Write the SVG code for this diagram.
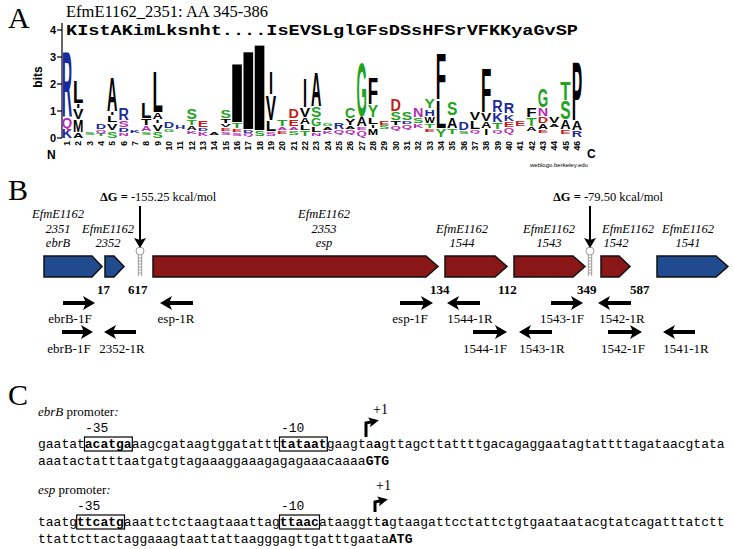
<svg xmlns="http://www.w3.org/2000/svg" width="734" height="549" viewBox="0 0 734 549">
<style>
.panel{font-family:"Liberation Serif",serif;font-size:30px;fill:#000}
.ttl{font-family:"Liberation Serif",serif;font-size:16.5px;fill:#000}
.seqc{font-family:"Liberation Mono",monospace;font-weight:bold;font-size:15px;fill:#000}
.ax{font-family:"Liberation Sans",Arial,sans-serif;font-weight:bold;font-size:11px;text-anchor:end;fill:#000}
.n{font-family:"Liberation Sans",Arial,sans-serif;font-weight:bold;font-size:8.5px;text-anchor:end;fill:#000}
.L{font-family:"Liberation Sans",Arial,sans-serif;font-weight:bold;font-size:10px}
.g{fill:#22a322}.b{fill:#1c2a9c}.p{fill:#b42cb4}.r{fill:#c41a1a}.k{fill:#000}
.gl{font-family:"Liberation Serif",serif;font-style:italic;font-size:12.5px;text-anchor:middle;fill:#000}
.dg{font-family:"Liberation Serif",serif;font-size:12.5px;fill:#000}
.num{font-family:"Liberation Serif",serif;font-weight:bold;font-size:13px;fill:#000}
.pl{font-family:"Liberation Serif",serif;font-size:13px;text-anchor:middle;fill:#000}
.blue{fill:#214b8f;stroke:#111;stroke-width:1.5}
.red{fill:#8a1717;stroke:#111;stroke-width:1.5}
.hp{fill:none;stroke:#9a9a9a;stroke-width:1}
.pr{fill:none;stroke:#000;stroke-width:4;marker-end:url(#ah)}
.dga{fill:none;stroke:#000;stroke-width:2;marker-end:url(#ah2)}
.mono{font-family:"Liberation Mono",monospace;font-size:13px;fill:#000}
.lbl{font-family:"Liberation Serif",serif;font-size:13px;fill:#000}
.box{fill:none;stroke:#000;stroke-width:1.2}
</style>
<defs>
<marker id="ah" viewBox="0 0 12 14" refX="6" refY="7" markerWidth="12" markerHeight="14" markerUnits="userSpaceOnUse" orient="auto"><path d="M0,0 L12,7 L0,14 L3,7 z" fill="#000"/></marker>
<marker id="ah2" viewBox="0 0 10 12" refX="4" refY="6" markerWidth="10" markerHeight="12" markerUnits="userSpaceOnUse" orient="auto"><path d="M0,0 L10,6 L0,12 L2,6 z" fill="#000"/></marker>
<marker id="ah3" viewBox="0 0 10 10" refX="4" refY="5" markerWidth="10" markerHeight="10" markerUnits="userSpaceOnUse" orient="auto"><path d="M0,0 L10,5 L0,10 L2,5 z" fill="#000"/></marker>
</defs>

<!-- Panel A -->
<g id="panelA">
<text class="panel" x="8" y="28">A</text>
<text class="ttl" x="66" y="17">EfmE1162_2351:  AA 345-386</text>
<text class="seqc" x="66" y="35" textLength="512" lengthAdjust="spacingAndGlyphs">KIstAKimLksnht....IsEVSLglGFsDSsHFSrVFKKyaGvSP</text>
<g id="axis">
<line x1="62" y1="23" x2="62" y2="138" stroke="#000" stroke-width="1.2"/>
<g stroke="#000" stroke-width="1.2"><line x1="57" y1="30" x2="62" y2="30"/><line x1="57" y1="57" x2="62" y2="57"/><line x1="57" y1="84" x2="62" y2="84"/><line x1="57" y1="111" x2="62" y2="111"/><line x1="57" y1="138" x2="62" y2="138"/></g>
<text class="ax" x="56" y="34">4</text><text class="ax" x="56" y="61">3</text><text class="ax" x="56" y="88">2</text><text class="ax" x="56" y="115">1</text><text class="ax" x="56" y="142">0</text>
<text class="ax" style="font-size:12px;text-anchor:middle" transform="translate(42,77) rotate(-90)">bits</text>
<text class="ax" style="font-size:12px;text-anchor:start" x="47" y="159">N</text>
<text class="ax" style="font-size:12px;text-anchor:start" x="587" y="158">C</text>
<text class="ax" style="font-size:6px;font-weight:normal;text-anchor:start" x="530" y="167">weblogo.berkeley.edu</text>
</g>
<g id="colnums">
<text class="n" transform="translate(70,141) rotate(-90)">1</text>
<text class="n" transform="translate(81.3,141) rotate(-90)">2</text>
<text class="n" transform="translate(92.7,141) rotate(-90)">3</text>
<text class="n" transform="translate(104,141) rotate(-90)">4</text>
<text class="n" transform="translate(115.3,141) rotate(-90)">5</text>
<text class="n" transform="translate(126.7,141) rotate(-90)">6</text>
<text class="n" transform="translate(138,141) rotate(-90)">7</text>
<text class="n" transform="translate(149.3,141) rotate(-90)">8</text>
<text class="n" transform="translate(160.6,141) rotate(-90)">9</text>
<text class="n" transform="translate(172,141) rotate(-90)">10</text>
<text class="n" transform="translate(183.3,141) rotate(-90)">11</text>
<text class="n" transform="translate(194.6,141) rotate(-90)">12</text>
<text class="n" transform="translate(206,141) rotate(-90)">13</text>
<text class="n" transform="translate(217.3,141) rotate(-90)">14</text>
<text class="n" transform="translate(228.6,141) rotate(-90)">15</text>
<text class="n" transform="translate(240,141) rotate(-90)">16</text>
<text class="n" transform="translate(251.3,141) rotate(-90)">17</text>
<text class="n" transform="translate(262.6,141) rotate(-90)">18</text>
<text class="n" transform="translate(273.9,141) rotate(-90)">19</text>
<text class="n" transform="translate(285.3,141) rotate(-90)">20</text>
<text class="n" transform="translate(296.6,141) rotate(-90)">21</text>
<text class="n" transform="translate(307.9,141) rotate(-90)">22</text>
<text class="n" transform="translate(319.3,141) rotate(-90)">23</text>
<text class="n" transform="translate(330.6,141) rotate(-90)">24</text>
<text class="n" transform="translate(341.9,141) rotate(-90)">25</text>
<text class="n" transform="translate(353.3,141) rotate(-90)">26</text>
<text class="n" transform="translate(364.6,141) rotate(-90)">27</text>
<text class="n" transform="translate(375.9,141) rotate(-90)">28</text>
<text class="n" transform="translate(387.2,141) rotate(-90)">29</text>
<text class="n" transform="translate(398.6,141) rotate(-90)">30</text>
<text class="n" transform="translate(409.9,141) rotate(-90)">31</text>
<text class="n" transform="translate(421.2,141) rotate(-90)">32</text>
<text class="n" transform="translate(432.6,141) rotate(-90)">33</text>
<text class="n" transform="translate(443.9,141) rotate(-90)">34</text>
<text class="n" transform="translate(455.2,141) rotate(-90)">35</text>
<text class="n" transform="translate(466.6,141) rotate(-90)">36</text>
<text class="n" transform="translate(477.9,141) rotate(-90)">37</text>
<text class="n" transform="translate(489.2,141) rotate(-90)">38</text>
<text class="n" transform="translate(500.5,141) rotate(-90)">39</text>
<text class="n" transform="translate(511.9,141) rotate(-90)">40</text>
<text class="n" transform="translate(523.2,141) rotate(-90)">41</text>
<text class="n" transform="translate(534.5,141) rotate(-90)">42</text>
<text class="n" transform="translate(545.9,141) rotate(-90)">43</text>
<text class="n" transform="translate(557.2,141) rotate(-90)">44</text>
<text class="n" transform="translate(568.5,141) rotate(-90)">45</text>
<text class="n" transform="translate(579.9,141) rotate(-90)">46</text>
</g>
<g id="logo">
<text class="L b" transform="translate(61.8,138) scale(1,1.257)" textLength="10.4" lengthAdjust="spacingAndGlyphs">K</text>
<text class="L p" transform="translate(61.8,128) scale(1,1.536)" textLength="10.4" lengthAdjust="spacingAndGlyphs">Q</text>
<text class="L b" transform="translate(61.8,116) scale(1,9.218)" textLength="10.4" lengthAdjust="spacingAndGlyphs">R</text>
<text class="L k" transform="translate(73.1,138) scale(1,0.698)" textLength="10.4" lengthAdjust="spacingAndGlyphs">A</text>
<text class="L k" transform="translate(73.1,132) scale(1,1.676)" textLength="10.4" lengthAdjust="spacingAndGlyphs">M</text>
<text class="L k" transform="translate(73.1,119) scale(1,1.397)" textLength="10.4" lengthAdjust="spacingAndGlyphs">V</text>
<text class="L k" transform="translate(76.3,108) scale(1,0.559)" textLength="4" lengthAdjust="spacingAndGlyphs">I</text>
<text class="L k" transform="translate(73.1,103) scale(1,3.212)" textLength="10.4" lengthAdjust="spacingAndGlyphs">L</text>
<text class="L g" transform="translate(84.5,135) scale(1,0.419)" textLength="10.4" lengthAdjust="spacingAndGlyphs">S</text>
<text class="L g" transform="translate(95.8,136) scale(1,0.419)" textLength="10.4" lengthAdjust="spacingAndGlyphs">T</text>
<text class="L p" transform="translate(95.8,133) scale(1,0.419)" textLength="10.4" lengthAdjust="spacingAndGlyphs">Q</text>
<text class="L b" transform="translate(95.8,129) scale(1,0.698)" textLength="10.4" lengthAdjust="spacingAndGlyphs">D</text>
<text class="L g" transform="translate(107.1,138) scale(1,0.978)" textLength="10.4" lengthAdjust="spacingAndGlyphs">S</text>
<text class="L k" transform="translate(107.1,130) scale(1,0.978)" textLength="10.4" lengthAdjust="spacingAndGlyphs">V</text>
<text class="L k" transform="translate(107.1,122) scale(1,0.838)" textLength="10.4" lengthAdjust="spacingAndGlyphs">L</text>
<text class="L k" transform="translate(110.3,115) scale(1,0.419)" textLength="4" lengthAdjust="spacingAndGlyphs">I</text>
<text class="L k" transform="translate(107.1,111) scale(1,4.888)" textLength="10.4" lengthAdjust="spacingAndGlyphs">A</text>
<text class="L p" transform="translate(118.5,136) scale(1,0.419)" textLength="10.4" lengthAdjust="spacingAndGlyphs">N</text>
<text class="L b" transform="translate(118.5,132) scale(1,0.559)" textLength="10.4" lengthAdjust="spacingAndGlyphs">D</text>
<text class="L p" transform="translate(118.5,127) scale(1,0.838)" textLength="10.4" lengthAdjust="spacingAndGlyphs">S</text>
<text class="L b" transform="translate(118.5,120) scale(1,1.676)" textLength="10.4" lengthAdjust="spacingAndGlyphs">R</text>
<text class="L b" transform="translate(129.8,133) scale(1,0.279)" textLength="10.4" lengthAdjust="spacingAndGlyphs">K</text>
<text class="L g" transform="translate(141.1,135) scale(1,0.419)" textLength="10.4" lengthAdjust="spacingAndGlyphs">S</text>
<text class="L p" transform="translate(141.1,131) scale(1,0.698)" textLength="10.4" lengthAdjust="spacingAndGlyphs">A</text>
<text class="L k" transform="translate(141.1,125) scale(1,0.838)" textLength="10.4" lengthAdjust="spacingAndGlyphs">T</text>
<text class="L k" transform="translate(141.1,118) scale(1,2.235)" textLength="10.4" lengthAdjust="spacingAndGlyphs">L</text>
<text class="L g" transform="translate(152.4,138) scale(1,0.838)" textLength="10.4" lengthAdjust="spacingAndGlyphs">S</text>
<text class="L k" transform="translate(152.4,131) scale(1,0.978)" textLength="10.4" lengthAdjust="spacingAndGlyphs">V</text>
<text class="L k" transform="translate(155.6,123) scale(1,0.419)" textLength="4" lengthAdjust="spacingAndGlyphs">I</text>
<text class="L k" transform="translate(152.4,119) scale(1,0.838)" textLength="10.4" lengthAdjust="spacingAndGlyphs">A</text>
<text class="L k" transform="translate(152.4,112) scale(1,5.726)" textLength="10.4" lengthAdjust="spacingAndGlyphs">L</text>
<text class="L g" transform="translate(163.8,132) scale(1,0.419)" textLength="10.4" lengthAdjust="spacingAndGlyphs">G</text>
<text class="L b" transform="translate(163.8,128) scale(1,0.838)" textLength="10.4" lengthAdjust="spacingAndGlyphs">D</text>
<text class="L b" transform="translate(175.1,129) scale(1,0.559)" textLength="10.4" lengthAdjust="spacingAndGlyphs">H</text>
<text class="L p" transform="translate(186.4,134) scale(1,0.419)" textLength="10.4" lengthAdjust="spacingAndGlyphs">K</text>
<text class="L k" transform="translate(186.4,130) scale(1,0.559)" textLength="10.4" lengthAdjust="spacingAndGlyphs">A</text>
<text class="L g" transform="translate(186.4,125) scale(1,0.698)" textLength="10.4" lengthAdjust="spacingAndGlyphs">T</text>
<text class="L g" transform="translate(186.4,119) scale(1,1.397)" textLength="10.4" lengthAdjust="spacingAndGlyphs">S</text>
<text class="L p" transform="translate(197.8,136) scale(1,0.559)" textLength="10.4" lengthAdjust="spacingAndGlyphs">K</text>
<text class="L b" transform="translate(197.8,131) scale(1,0.419)" textLength="10.4" lengthAdjust="spacingAndGlyphs">D</text>
<text class="L r" transform="translate(197.8,127) scale(1,0.978)" textLength="10.4" lengthAdjust="spacingAndGlyphs">E</text>
<text class="L k" transform="translate(209.1,135) scale(1,0.279)" textLength="10.4" lengthAdjust="spacingAndGlyphs">A</text>
<text class="L p" transform="translate(220.4,135) scale(1,0.419)" textLength="10.4" lengthAdjust="spacingAndGlyphs">S</text>
<text class="L r" transform="translate(220.4,131) scale(1,0.419)" textLength="10.4" lengthAdjust="spacingAndGlyphs">E</text>
<text class="L k" transform="translate(220.4,127) scale(1,0.419)" textLength="10.4" lengthAdjust="spacingAndGlyphs">V</text>
<text class="L k" transform="translate(220.4,123) scale(1,0.559)" textLength="10.4" lengthAdjust="spacingAndGlyphs">T</text>
<text class="L g" transform="translate(220.4,118) scale(1,1.117)" textLength="10.4" lengthAdjust="spacingAndGlyphs">S</text>
<text class="L p" transform="translate(231.8,136) scale(1,0.419)" textLength="10.4" lengthAdjust="spacingAndGlyphs">S</text>
<text class="L r" transform="translate(231.8,132) scale(1,0.419)" textLength="10.4" lengthAdjust="spacingAndGlyphs">E</text>
<text class="L g" transform="translate(231.8,128) scale(1,0.698)" textLength="10.4" lengthAdjust="spacingAndGlyphs">T</text>
<text class="L k" transform="translate(227.7,122) scale(1,8.380)" textLength="18.6" lengthAdjust="spacingAndGlyphs">I</text>
<text class="L p" transform="translate(243.1,136) scale(1,0.279)" textLength="10.4" lengthAdjust="spacingAndGlyphs">Q</text>
<text class="L b" transform="translate(243.1,133) scale(1,0.419)" textLength="10.4" lengthAdjust="spacingAndGlyphs">D</text>
<text class="L k" transform="translate(239.0,129) scale(1,11.173)" textLength="18.6" lengthAdjust="spacingAndGlyphs">I</text>
<text class="L g" transform="translate(254.4,136) scale(1,0.698)" textLength="10.4" lengthAdjust="spacingAndGlyphs">S</text>
<text class="L k" transform="translate(250.3,130) scale(1,12.291)" textLength="18.6" lengthAdjust="spacingAndGlyphs">I</text>
<text class="L p" transform="translate(265.7,136) scale(1,0.559)" textLength="10.4" lengthAdjust="spacingAndGlyphs">S</text>
<text class="L k" transform="translate(265.7,131) scale(1,1.397)" textLength="10.4" lengthAdjust="spacingAndGlyphs">L</text>
<text class="L k" transform="translate(265.7,120) scale(1,3.492)" textLength="10.4" lengthAdjust="spacingAndGlyphs">V</text>
<text class="L k" transform="translate(268.9,94) scale(1,3.212)" textLength="4" lengthAdjust="spacingAndGlyphs">I</text>
<text class="L r" transform="translate(277.1,134) scale(1,0.419)" textLength="10.4" lengthAdjust="spacingAndGlyphs">E</text>
<text class="L p" transform="translate(277.1,130) scale(1,0.419)" textLength="10.4" lengthAdjust="spacingAndGlyphs">A</text>
<text class="L g" transform="translate(277.1,126) scale(1,0.838)" textLength="10.4" lengthAdjust="spacingAndGlyphs">T</text>
<text class="L g" transform="translate(288.4,135) scale(1,0.559)" textLength="10.4" lengthAdjust="spacingAndGlyphs">S</text>
<text class="L p" transform="translate(288.4,130) scale(1,0.419)" textLength="10.4" lengthAdjust="spacingAndGlyphs">A</text>
<text class="L r" transform="translate(288.4,126) scale(1,0.978)" textLength="10.4" lengthAdjust="spacingAndGlyphs">E</text>
<text class="L r" transform="translate(288.4,118) scale(1,1.257)" textLength="10.4" lengthAdjust="spacingAndGlyphs">D</text>
<text class="L g" transform="translate(299.7,136) scale(1,0.698)" textLength="10.4" lengthAdjust="spacingAndGlyphs">T</text>
<text class="L k" transform="translate(299.7,130) scale(1,0.698)" textLength="10.4" lengthAdjust="spacingAndGlyphs">L</text>
<text class="L k" transform="translate(299.7,124) scale(1,0.838)" textLength="10.4" lengthAdjust="spacingAndGlyphs">A</text>
<text class="L k" transform="translate(299.7,117) scale(1,1.257)" textLength="10.4" lengthAdjust="spacingAndGlyphs">V</text>
<text class="L k" transform="translate(302.9,107) scale(1,4.050)" textLength="4" lengthAdjust="spacingAndGlyphs">I</text>
<text class="L p" transform="translate(311.1,136) scale(1,0.419)" textLength="10.4" lengthAdjust="spacingAndGlyphs">N</text>
<text class="L k" transform="translate(311.1,132) scale(1,0.698)" textLength="10.4" lengthAdjust="spacingAndGlyphs">L</text>
<text class="L g" transform="translate(311.1,126) scale(1,1.117)" textLength="10.4" lengthAdjust="spacingAndGlyphs">G</text>
<text class="L g" transform="translate(311.1,117) scale(1,1.397)" textLength="10.4" lengthAdjust="spacingAndGlyphs">S</text>
<text class="L k" transform="translate(311.1,106) scale(1,4.749)" textLength="10.4" lengthAdjust="spacingAndGlyphs">A</text>
<text class="L p" transform="translate(322.4,134) scale(1,0.419)" textLength="10.4" lengthAdjust="spacingAndGlyphs">K</text>
<text class="L k" transform="translate(322.4,130) scale(1,0.419)" textLength="10.4" lengthAdjust="spacingAndGlyphs">A</text>
<text class="L g" transform="translate(322.4,126) scale(1,0.419)" textLength="10.4" lengthAdjust="spacingAndGlyphs">G</text>
<text class="L p" transform="translate(333.7,134) scale(1,0.559)" textLength="10.4" lengthAdjust="spacingAndGlyphs">Q</text>
<text class="L b" transform="translate(333.7,129) scale(1,0.978)" textLength="10.4" lengthAdjust="spacingAndGlyphs">R</text>
<text class="L p" transform="translate(345.1,134) scale(1,0.559)" textLength="10.4" lengthAdjust="spacingAndGlyphs">Q</text>
<text class="L k" transform="translate(345.1,129) scale(1,0.419)" textLength="10.4" lengthAdjust="spacingAndGlyphs">A</text>
<text class="L k" transform="translate(345.1,125) scale(1,0.838)" textLength="10.4" lengthAdjust="spacingAndGlyphs">Y</text>
<text class="L g" transform="translate(345.1,118) scale(1,1.536)" textLength="10.4" lengthAdjust="spacingAndGlyphs">C</text>
<text class="L p" transform="translate(356.4,136) scale(1,0.698)" textLength="10.4" lengthAdjust="spacingAndGlyphs">Q</text>
<text class="L p" transform="translate(356.4,130) scale(1,0.419)" textLength="10.4" lengthAdjust="spacingAndGlyphs">E</text>
<text class="L k" transform="translate(356.4,126) scale(1,1.257)" textLength="10.4" lengthAdjust="spacingAndGlyphs">A</text>
<text class="L g" transform="translate(356.4,116) scale(1,7.542)" textLength="10.4" lengthAdjust="spacingAndGlyphs">G</text>
<text class="L k" transform="translate(367.7,135) scale(1,0.838)" textLength="10.4" lengthAdjust="spacingAndGlyphs">M</text>
<text class="L k" transform="translate(370.9,128) scale(1,0.419)" textLength="4" lengthAdjust="spacingAndGlyphs">I</text>
<text class="L k" transform="translate(367.7,124) scale(1,0.838)" textLength="10.4" lengthAdjust="spacingAndGlyphs">L</text>
<text class="L g" transform="translate(367.7,117) scale(1,1.676)" textLength="10.4" lengthAdjust="spacingAndGlyphs">Y</text>
<text class="L k" transform="translate(367.7,104) scale(1,3.631)" textLength="10.4" lengthAdjust="spacingAndGlyphs">F</text>
<text class="L g" transform="translate(379.0,129) scale(1,0.559)" textLength="10.4" lengthAdjust="spacingAndGlyphs">S</text>
<text class="L r" transform="translate(379.0,125) scale(1,0.559)" textLength="10.4" lengthAdjust="spacingAndGlyphs">E</text>
<text class="L p" transform="translate(390.4,130) scale(1,0.559)" textLength="10.4" lengthAdjust="spacingAndGlyphs">Q</text>
<text class="L k" transform="translate(390.4,125) scale(1,0.559)" textLength="10.4" lengthAdjust="spacingAndGlyphs">T</text>
<text class="L g" transform="translate(390.4,120) scale(1,1.117)" textLength="10.4" lengthAdjust="spacingAndGlyphs">S</text>
<text class="L r" transform="translate(390.4,111) scale(1,1.676)" textLength="10.4" lengthAdjust="spacingAndGlyphs">D</text>
<text class="L p" transform="translate(401.7,129) scale(1,0.559)" textLength="10.4" lengthAdjust="spacingAndGlyphs">Q</text>
<text class="L b" transform="translate(401.7,124) scale(1,0.419)" textLength="10.4" lengthAdjust="spacingAndGlyphs">D</text>
<text class="L g" transform="translate(401.7,120) scale(1,1.117)" textLength="10.4" lengthAdjust="spacingAndGlyphs">S</text>
<text class="L p" transform="translate(413.0,128) scale(1,0.559)" textLength="10.4" lengthAdjust="spacingAndGlyphs">K</text>
<text class="L g" transform="translate(413.0,123) scale(1,0.698)" textLength="10.4" lengthAdjust="spacingAndGlyphs">S</text>
<text class="L p" transform="translate(413.0,117) scale(1,1.257)" textLength="10.4" lengthAdjust="spacingAndGlyphs">N</text>
<text class="L r" transform="translate(424.4,132) scale(1,0.419)" textLength="10.4" lengthAdjust="spacingAndGlyphs">E</text>
<text class="L g" transform="translate(424.4,128) scale(1,0.559)" textLength="10.4" lengthAdjust="spacingAndGlyphs">T</text>
<text class="L k" transform="translate(424.4,123) scale(1,0.838)" textLength="10.4" lengthAdjust="spacingAndGlyphs">W</text>
<text class="L b" transform="translate(424.4,116) scale(1,0.978)" textLength="10.4" lengthAdjust="spacingAndGlyphs">H</text>
<text class="L g" transform="translate(424.4,108) scale(1,1.257)" textLength="10.4" lengthAdjust="spacingAndGlyphs">Y</text>
<text class="L g" transform="translate(435.7,137) scale(1,1.117)" textLength="10.4" lengthAdjust="spacingAndGlyphs">Y</text>
<text class="L k" transform="translate(435.7,128) scale(1,3.911)" textLength="10.4" lengthAdjust="spacingAndGlyphs">L</text>
<text class="L k" transform="translate(435.7,99) scale(1,6.425)" textLength="10.4" lengthAdjust="spacingAndGlyphs">F</text>
<text class="L g" transform="translate(447.0,134) scale(1,0.698)" textLength="10.4" lengthAdjust="spacingAndGlyphs">T</text>
<text class="L k" transform="translate(447.0,128) scale(1,1.397)" textLength="10.4" lengthAdjust="spacingAndGlyphs">A</text>
<text class="L g" transform="translate(447.0,115) scale(1,1.816)" textLength="10.4" lengthAdjust="spacingAndGlyphs">S</text>
<text class="L g" transform="translate(458.4,134) scale(1,0.419)" textLength="10.4" lengthAdjust="spacingAndGlyphs">S</text>
<text class="L b" transform="translate(458.4,130) scale(1,1.117)" textLength="10.4" lengthAdjust="spacingAndGlyphs">D</text>
<text class="L p" transform="translate(469.7,133) scale(1,0.419)" textLength="10.4" lengthAdjust="spacingAndGlyphs">Q</text>
<text class="L k" transform="translate(469.7,129) scale(1,1.117)" textLength="10.4" lengthAdjust="spacingAndGlyphs">L</text>
<text class="L k" transform="translate(469.7,120) scale(1,1.117)" textLength="10.4" lengthAdjust="spacingAndGlyphs">V</text>
<text class="L k" transform="translate(484.2,135) scale(1,0.838)" textLength="4" lengthAdjust="spacingAndGlyphs">I</text>
<text class="L k" transform="translate(481.0,128) scale(1,0.838)" textLength="10.4" lengthAdjust="spacingAndGlyphs">A</text>
<text class="L k" transform="translate(481.0,121) scale(1,1.117)" textLength="10.4" lengthAdjust="spacingAndGlyphs">V</text>
<text class="L k" transform="translate(481.0,112) scale(1,6.285)" textLength="10.4" lengthAdjust="spacingAndGlyphs">F</text>
<text class="L p" transform="translate(492.3,133) scale(1,0.419)" textLength="10.4" lengthAdjust="spacingAndGlyphs">Q</text>
<text class="L g" transform="translate(492.3,129) scale(1,0.838)" textLength="10.4" lengthAdjust="spacingAndGlyphs">T</text>
<text class="L b" transform="translate(492.3,122) scale(1,1.257)" textLength="10.4" lengthAdjust="spacingAndGlyphs">K</text>
<text class="L b" transform="translate(492.3,112) scale(1,1.676)" textLength="10.4" lengthAdjust="spacingAndGlyphs">R</text>
<text class="L p" transform="translate(503.7,133) scale(1,0.698)" textLength="10.4" lengthAdjust="spacingAndGlyphs">Q</text>
<text class="L r" transform="translate(503.7,127) scale(1,0.698)" textLength="10.4" lengthAdjust="spacingAndGlyphs">E</text>
<text class="L b" transform="translate(503.7,121) scale(1,0.978)" textLength="10.4" lengthAdjust="spacingAndGlyphs">K</text>
<text class="L b" transform="translate(503.7,113) scale(1,1.536)" textLength="10.4" lengthAdjust="spacingAndGlyphs">R</text>
<text class="L r" transform="translate(515.0,126) scale(1,0.698)" textLength="10.4" lengthAdjust="spacingAndGlyphs">E</text>
<text class="L k" transform="translate(526.3,131) scale(1,0.559)" textLength="10.4" lengthAdjust="spacingAndGlyphs">A</text>
<text class="L g" transform="translate(526.3,126) scale(1,1.117)" textLength="10.4" lengthAdjust="spacingAndGlyphs">T</text>
<text class="L k" transform="translate(526.3,117) scale(1,1.257)" textLength="10.4" lengthAdjust="spacingAndGlyphs">F</text>
<text class="L r" transform="translate(537.7,133) scale(1,0.419)" textLength="10.4" lengthAdjust="spacingAndGlyphs">E</text>
<text class="L k" transform="translate(537.7,129) scale(1,0.698)" textLength="10.4" lengthAdjust="spacingAndGlyphs">A</text>
<text class="L r" transform="translate(537.7,123) scale(1,0.838)" textLength="10.4" lengthAdjust="spacingAndGlyphs">D</text>
<text class="L p" transform="translate(537.7,116) scale(1,1.117)" textLength="10.4" lengthAdjust="spacingAndGlyphs">N</text>
<text class="L g" transform="translate(537.7,107) scale(1,2.514)" textLength="10.4" lengthAdjust="spacingAndGlyphs">G</text>
<text class="L k" transform="translate(549.0,127) scale(1,0.419)" textLength="10.4" lengthAdjust="spacingAndGlyphs">A</text>
<text class="L k" transform="translate(549.0,123) scale(1,0.838)" textLength="10.4" lengthAdjust="spacingAndGlyphs">V</text>
<text class="L r" transform="translate(560.3,134) scale(1,0.559)" textLength="10.4" lengthAdjust="spacingAndGlyphs">E</text>
<text class="L k" transform="translate(560.3,129) scale(1,1.257)" textLength="10.4" lengthAdjust="spacingAndGlyphs">A</text>
<text class="L g" transform="translate(560.3,119) scale(1,2.514)" textLength="10.4" lengthAdjust="spacingAndGlyphs">S</text>
<text class="L g" transform="translate(560.3,100) scale(1,2.514)" textLength="10.4" lengthAdjust="spacingAndGlyphs">T</text>
<text class="L b" transform="translate(571.7,137) scale(1,0.838)" textLength="10.4" lengthAdjust="spacingAndGlyphs">R</text>
<text class="L k" transform="translate(571.7,130) scale(1,1.257)" textLength="10.4" lengthAdjust="spacingAndGlyphs">A</text>
<text class="L k" transform="translate(571.7,120) scale(1,8.380)" textLength="10.4" lengthAdjust="spacingAndGlyphs">P</text>
</g>
</g>

<!-- Panel B -->
<g id="panelB">
<text class="panel" x="8" y="200">B</text>
<text class="dg" x="100" y="201"><tspan font-weight="bold">ΔG =</tspan> -155.25 kcal/mol</text>
<text class="dg" x="553" y="201"><tspan font-weight="bold">ΔG =</tspan> -79.50 kcal/mol</text>

<g id="g2351"><polygon class="blue" points="44,256 92,256 102,266.5 92,277 44,277"/>
<text class="gl" x="58" y="218">EfmE1162</text><text class="gl" x="58" y="233">2351</text><text class="gl" x="58" y="247">ebrB</text></g>
<g id="g2352"><polygon class="blue" points="105,256 114,256 124,266.5 114,277 105,277"/>
<text class="gl" x="108" y="233">EfmE1162</text><text class="gl" x="108" y="247">2352</text></g>
<g id="g2353"><polygon class="red" points="153,256 426,256 438,266.5 426,277 153,277"/>
<text class="gl" x="324" y="218">EfmE1162</text><text class="gl" x="324" y="233">2353</text><text class="gl" x="324" y="247">esp</text></g>
<g id="g1544"><polygon class="red" points="445,256 495,256 507,266.5 495,277 445,277"/>
<text class="gl" x="462" y="233">EfmE1162</text><text class="gl" x="462" y="247">1544</text></g>
<g id="g1543"><polygon class="red" points="514,256 573,256 585,266.5 573,277 514,277"/>
<text class="gl" x="549" y="233">EfmE1162</text><text class="gl" x="549" y="247">1543</text></g>
<g id="g1542"><polygon class="red" points="601,256 619,256 630,266.5 619,277 601,277"/>
<text class="gl" x="628" y="233">EfmE1162</text><text class="gl" x="616" y="247">1542</text></g>
<g id="g1541"><polygon class="blue" points="657,256 716,256 728,266.5 716,277 657,277"/>
<text class="gl" x="688" y="233">EfmE1162</text><text class="gl" x="688" y="247">1541</text></g>

<g id="term1"><circle class="hp" cx="140" cy="251" r="4"/><path class="hp" d="M138.3,254.6 V276 M141.7,254.6 V276 M138.3,258 H141.7 M138.3,261 H141.7 M138.3,264 H141.7 M138.3,267 H141.7 M138.3,270 H141.7 M138.3,273 H141.7"/></g>
<g id="term2"><circle class="hp" cx="590" cy="251" r="4"/><path class="hp" d="M588.3,254.6 V276 M591.7,254.6 V276 M588.3,258 H591.7 M588.3,261 H591.7 M588.3,264 H591.7 M588.3,267 H591.7 M588.3,270 H591.7 M588.3,273 H591.7"/></g>

<g id="sizes">
<text class="num" x="97" y="294">17</text><text class="num" x="128" y="294">617</text>
<text class="num" x="430" y="294">134</text><text class="num" x="498" y="294">112</text>
<text class="num" x="577" y="294">349</text><text class="num" x="630" y="294">587</text>
</g>
<g id="primerlabels">
<text class="pl" x="70" y="323">ebrB-1F</text><text class="pl" x="176" y="323">esp-1R</text>
<text class="pl" x="69" y="353">ebrB-1F</text><text class="pl" x="122" y="353">2352-1R</text>
<text class="pl" x="410" y="323">esp-1F</text><text class="pl" x="470" y="323">1544-1R</text>
<text class="pl" x="562" y="323">1543-1F</text><text class="pl" x="622" y="323">1542-1R</text>
<text class="pl" x="485" y="353">1544-1F</text><text class="pl" x="542" y="353">1543-1R</text>
<text class="pl" x="623" y="353">1542-1F</text><text class="pl" x="686" y="353">1541-1R</text>
</g>
</g>

<g id="connectors">
<path class="dga" d="M140,206 V242"/>
<path class="dga" d="M590,206 V242"/>
<path class="pr" d="M63,303 H89"/>
<path class="pr" d="M193,303 H166"/>
<path class="pr" d="M62,332 H87"/>
<path class="pr" d="M136,332 H110"/>
<path class="pr" d="M400,303 H427"/>
<path class="pr" d="M480,303 H453"/>
<path class="pr" d="M551,303 H577"/>
<path class="pr" d="M631,303 H604"/>
<path class="pr" d="M473,332 H501"/>
<path class="pr" d="M552,332 H525"/>
<path class="pr" d="M608,332 H636"/>
<path class="pr" d="M695,332 H669"/>
<path d="M366,437 V423 L373,421.5" fill="none" stroke="#000" stroke-width="3" marker-end="url(#ah3)"/>
<path d="M375,512 V502 L382,500.5" fill="none" stroke="#000" stroke-width="3" marker-end="url(#ah3)"/>
</g>

<!-- Panel C -->
<g id="panelC">
<text class="panel" x="8" y="405">C</text>
<text class="lbl" x="38" y="416"><tspan font-style="italic">ebrB</tspan> promoter<tspan font-style="italic">:</tspan></text>
<text class="lbl" style="font-size:14px" x="373" y="414">+1</text>
<text class="mono" x="85" y="432">-35</text><text class="mono" x="281" y="432">-10</text>
<rect class="box" x="84.5" y="437" width="47.8" height="14"/>
<rect class="box" x="279.5" y="437" width="47.8" height="14"/>
<text class="mono" x="38" y="448">gaatat<tspan font-weight="bold">acatga</tspan>aagcgataagtggatattt<tspan font-weight="bold">tataat</tspan>gaagta<tspan font-weight="bold">a</tspan>gttagcttattttgacagaggaatagtattttagataacgtata</text>
<text class="mono" x="38" y="465">aaatactatttaatgatgtagaaaggaaagagagaaacaaaa<tspan font-weight="bold">GTG</tspan></text>

<text class="lbl" x="38" y="494"><tspan font-style="italic">esp</tspan> promoter<tspan font-style="italic">:</tspan></text>
<text class="lbl" style="font-size:14px" x="376" y="490">+1</text>
<text class="mono" x="77" y="510">-35</text><text class="mono" x="281" y="510">-10</text>
<rect class="box" x="76.7" y="515" width="47.8" height="14"/>
<rect class="box" x="279.5" y="515" width="40" height="14"/>
<text class="mono" x="38" y="526">taatg<tspan font-weight="bold">ttcatg</tspan>aaattctctaagtaaattag<tspan font-weight="bold">ttaac</tspan>ataaggtt<tspan font-weight="bold">a</tspan>gtaagattcctattctgtgaataatacgtatcagatttatctt</text>
<text class="mono" x="38" y="543">ttattcttactaggaaagtaattattaagggagttgatttgaata<tspan font-weight="bold">ATG</tspan></text>
</g>
</svg>
